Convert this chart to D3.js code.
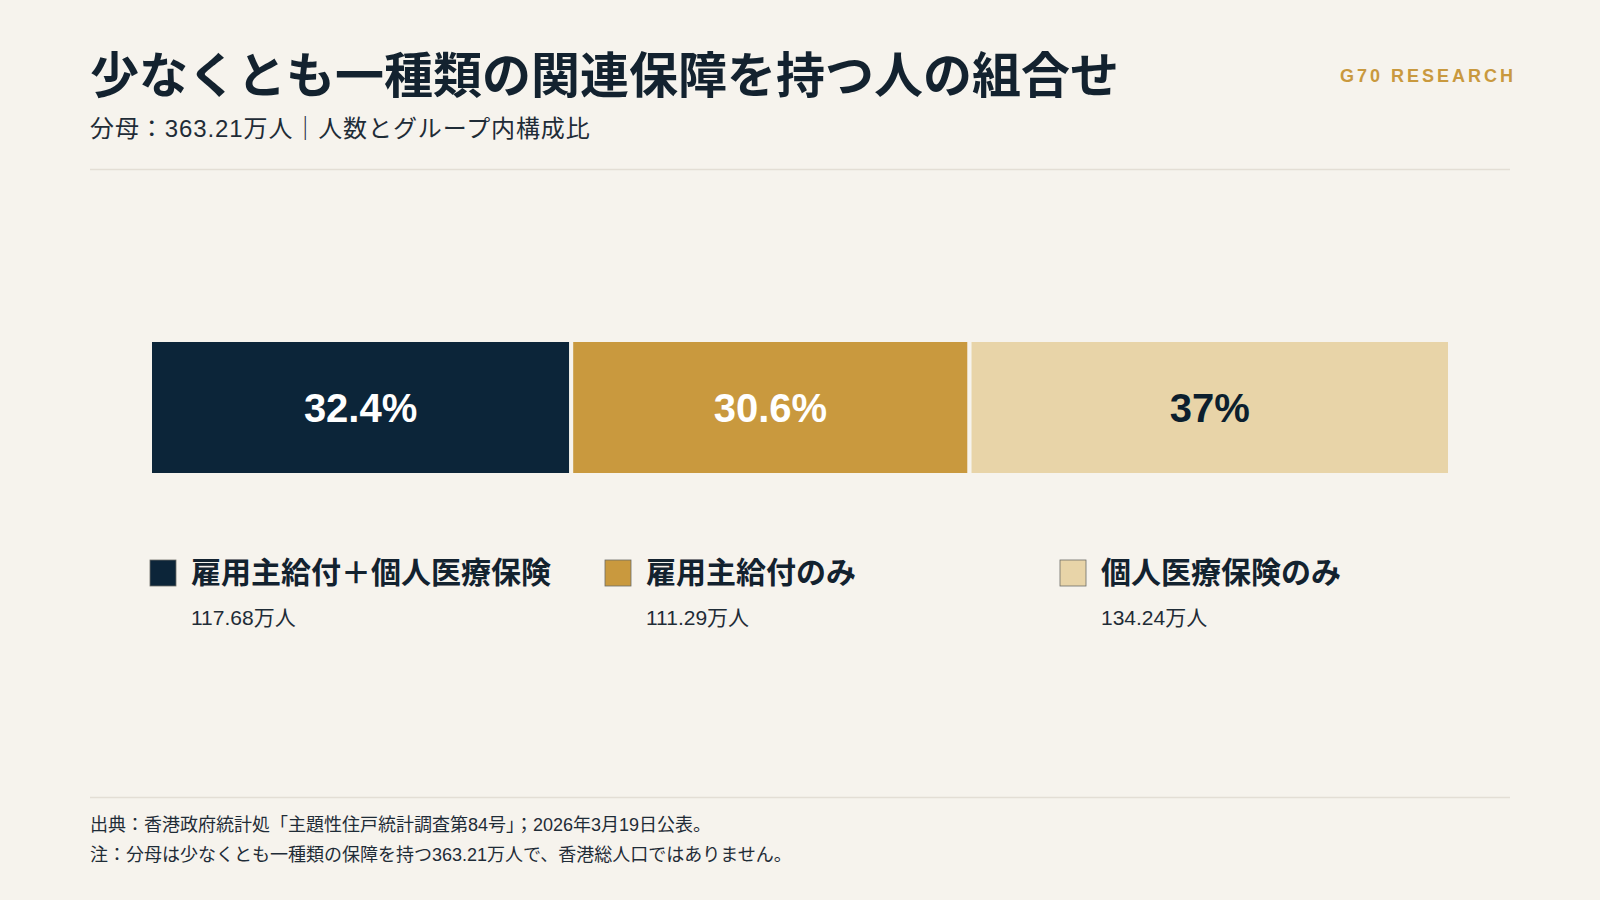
<!DOCTYPE html>
<html>
<head>
<meta charset="utf-8">
<script src="https://cdn.jsdelivr.net/npm/d3@7"></script>
<style>
  html, body { margin: 0; padding: 0; background: #f6f3ed; }
  svg { display: block; }
</style>
</head>
<body>
<div id="chart"></div>
<script>
// data
const categories = ["雇用主給付＋個人医療保険", "雇用主給付のみ", "個人医療保険のみ"];
const people = [117.68, 111.29, 134.24];   // 万人
const shares = [32.4, 30.6, 37.0];         // %
const colours = ["#0c2539", "#c9993e", "#e8d4a8"];
const labelColours = ["#ffffff", "#ffffff", "#0c1f2e"];

const titleText = "少なくとも一種類の関連保障を持つ人の組合せ";
const subtitleText = "分母：363.21万人｜人数とグループ内構成比";
const brandText = "G70 RESEARCH";
const notes = [
  "出典：香港政府統計処「主題性住戸統計調査第84号」；2026年3月19日公表。",
  "注：分母は少なくとも一種類の保障を持つ363.21万人で、香港総人口ではありません。"
];

const sizes = {width: 1600, height: 900, margin: {left: 90, right: 90}};
const bg = "#f6f3ed";
const ink = "#13222f";
const latin = "'Liberation Sans', Arial, 'Noto Sans CJK JP', sans-serif";
const cjk = "'Noto Sans CJK JP', 'Liberation Sans', sans-serif";

const svg = d3.select("#chart").append("svg")
  .attr("width", sizes.width)
  .attr("height", sizes.height)
  .attr("viewBox", `0 0 ${sizes.width} ${sizes.height}`);

svg.append("rect")
  .attr("width", sizes.width)
  .attr("height", sizes.height)
  .attr("fill", bg);

// header
svg.append("text")
  .text(titleText)
  .attr("x", sizes.margin.left)
  .attr("y", 93)
  .style("font-family", cjk)
  .style("font-weight", 700)
  .style("font-size", "49px")
  .style("fill", ink);

svg.append("text")
  .text(subtitleText)
  .attr("x", sizes.margin.left)
  .attr("y", 137)
  .style("font-family", latin)
  .style("font-size", "24px")
  .style("letter-spacing", "0.9px")
  .style("fill", "#1f2c37");

svg.append("text")
  .text(brandText)
  .attr("x", 1516)
  .attr("y", 82)
  .style("text-anchor", "end")
  .style("font-family", latin)
  .style("font-weight", 700)
  .style("font-size", "18px")
  .style("letter-spacing", "3px")
  .style("fill", "#c9993e");

svg.append("line")
  .attr("x1", sizes.margin.left).attr("x2", sizes.width - sizes.margin.right)
  .attr("y1", 169.5).attr("y2", 169.5)
  .attr("stroke", "#e3ded5")
  .attr("stroke-width", 1.5);

// stacked bar
const total = d3.sum(people);
const x = d3.scaleLinear()
  .domain([0, total])
  .range([150, 1450]);

const stacked = people.map((v, i) => ({
  name: categories[i],
  value: v,
  share: shares[i],
  x0: d3.sum(people.slice(0, i)),
  colour: colours[i],
  labelColour: labelColours[i]
}));

const barY = 340, barH = 135;
const fmt = d3.format(".1~f");

const seg = svg.append("g")
  .selectAll("g")
  .data(stacked)
  .enter()
  .append("g");

seg.append("rect")
  .attr("x", d => x(d.x0))
  .attr("y", barY)
  .attr("width", d => x(d.x0 + d.value) - x(d.x0))
  .attr("height", barH)
  .attr("fill", d => d.colour)
  .attr("stroke", bg)
  .attr("stroke-width", 4);

seg.append("text")
  .text(d => `${fmt(d.share)}%`)
  .attr("x", d => x(d.x0 + d.value / 2))
  .attr("y", barY + barH / 2)
  .attr("dy", "0.36em")
  .style("text-anchor", "middle")
  .style("font-family", latin)
  .style("font-weight", 700)
  .style("font-size", "40px")
  .style("fill", d => d.labelColour);

// legend
const legend = svg.append("g")
  .selectAll("g")
  .data(stacked)
  .enter()
  .append("g")
  .attr("transform", (d, i) => `translate(${150 + i * 455},560)`);

legend.append("rect")
  .attr("width", 26)
  .attr("height", 26)
  .attr("fill", d => d.colour)
  .attr("stroke", "#6b6b66")
  .attr("stroke-width", 0.8);

legend.append("text")
  .text(d => d.name)
  .attr("x", 41)
  .attr("y", 23)
  .style("font-family", cjk)
  .style("font-weight", 700)
  .style("font-size", "30px")
  .style("fill", ink);

legend.append("text")
  .text(d => `${d3.format(".2f")(d.value)}万人`)
  .attr("x", 41)
  .attr("y", 65)
  .style("font-family", latin)
  .style("font-size", "21px")
  .style("fill", "#1f2c37");

// footer
svg.append("line")
  .attr("x1", sizes.margin.left).attr("x2", sizes.width - sizes.margin.right)
  .attr("y1", 797.5).attr("y2", 797.5)
  .attr("stroke", "#e3ded5")
  .attr("stroke-width", 1.5);

svg.append("g")
  .selectAll("text")
  .data(notes)
  .enter()
  .append("text")
  .text(d => d)
  .attr("x", sizes.margin.left)
  .attr("y", (d, i) => 831 + i * 30)
  .style("font-family", latin)
  .style("font-size", "18px")
  .style("fill", "#1f2c37");
</script>
</body>
</html>
